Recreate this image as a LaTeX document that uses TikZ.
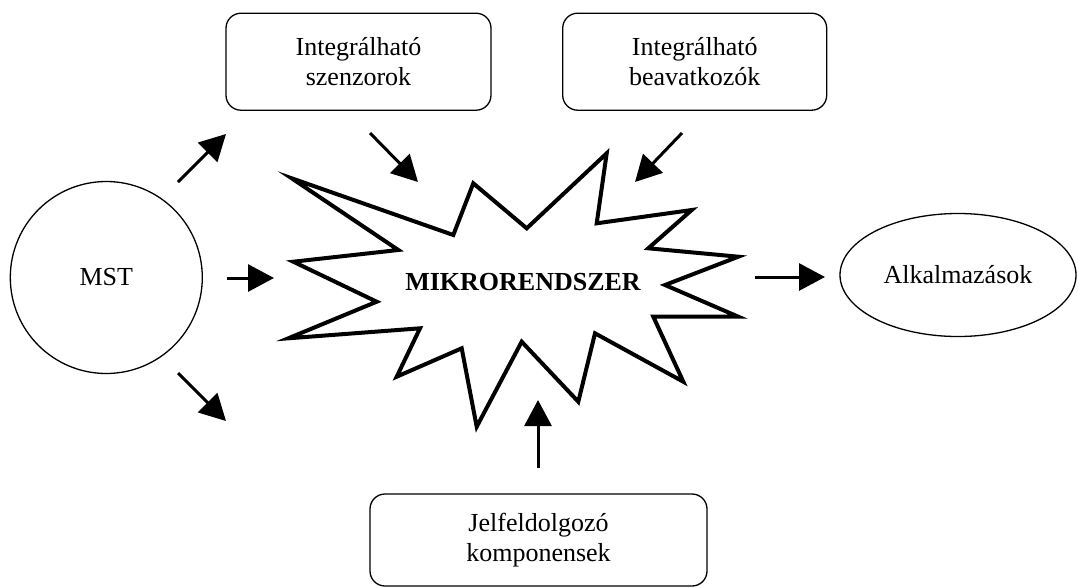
\documentclass[tikz,border=0pt]{standalone}
\usepackage{fontspec}
\setmainfont{Liberation Serif}
\usetikzlibrary{arrows.meta,shapes.geometric}
\tikzset{
  box/.style={draw, line width=1.3pt, rounded corners=15pt, align=center, inner sep=0pt},
  arr/.style={line width=3pt, -{Triangle[length=26pt,width=27pt]}},
  burst/.style={line width=4pt, line join=miter, miter limit=20},
}
\begin{document}
\begin{tikzpicture}[x=1pt,y=-1pt,font=\fontsize{26}{30}\selectfont]
\useasboundingbox (0,0) rectangle (1078,587);
% nodes
\node[box, minimum width=265pt, minimum height=97pt] (szen) at (358.5,61.7) {Integrálható\\szenzorok};
\node[box, minimum width=264pt, minimum height=97pt] (beav) at (694.7,61.7) {Integrálható\\beavatkozók};
\node[box, minimum width=337pt, minimum height=92pt] (jel) at (538.5,540) {Jelfeldolgozó\\komponensek};
\node[draw, circle, line width=1.3pt, minimum size=192pt, inner sep=0pt] (mst) at (106.3,277.5) {MST};
\node[draw, ellipse, line width=1.3pt, minimum width=236pt, minimum height=123pt, inner sep=0pt] (alk) at (958,275) {Alkalmazások};
% starburst
\draw[burst] (291.7,178.3) -- (453.3,235) -- (473.3,183.3) -- (526.7,228.3) -- (606.7,153.3)
  -- (596.7,223.3) -- (691.7,210) -- (648.3,248.3) -- (738.3,256.7) -- (665,285)
  -- (738.3,316.7) -- (653.3,316.7) -- (683.3,381.7) -- (595,333.3) -- (578.3,401.7)
  -- (521.7,341.7) -- (476.7,426.7) -- (461.7,348.3) -- (396.7,376.7) -- (420,328.3)
  -- (288.3,338.3) -- (376.7,301.7) -- (293.3,261.7) -- (398.3,250) -- cycle;
\node[font=\fontsize{26}{30}\selectfont\bfseries] (mikro) at (523,282) {MIKRORENDSZER};
% arrow endpoints
\coordinate (a1s) at (178,182); \coordinate (a1e) at (226,134);
\coordinate (a2s) at (227,278); \coordinate (a2e) at (274,278);
\coordinate (a3s) at (178,373); \coordinate (a3e) at (226,421);
\coordinate (a4s) at (370,133); \coordinate (a4e) at (418,182);
\coordinate (a5s) at (682,133); \coordinate (a5e) at (635,182);
\coordinate (a6s) at (538,468); \coordinate (a6e) at (538,400);
\coordinate (a7s) at (755,277); \coordinate (a7e) at (825,277);
\draw[arr] (a1s) -- (a1e);
\draw[arr] (a2s) -- (a2e);
\draw[arr] (a3s) -- (a3e);
\draw[arr] (a4s) -- (a4e);
\draw[arr] (a5s) -- (a5e);
\draw[arr] (a6s) -- (a6e);
\draw[arr] (a7s) -- (a7e);
\end{tikzpicture}
\end{document}
